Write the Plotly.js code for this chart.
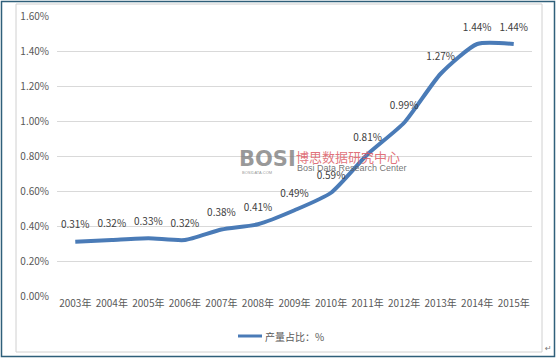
<!DOCTYPE html>
<html>
<head>
<meta charset="utf-8">
<script src="https://cdn.plot.ly/plotly-3.0.1.min.js"></script>
<style>
html,body{margin:0;padding:0;background:#fff;}
#chart{width:556px;height:358px;}
</style>
</head>
<body>
<div id="chart"></div>
<script>
const categories = ["2003年","2004年","2005年","2006年","2007年","2008年","2009年","2010年","2011年","2012年","2013年","2014年","2015年"];
const shareValues = [0.31,0.32,0.33,0.32,0.38,0.41,0.49,0.59,0.81,0.99,1.27,1.44,1.44];
const seriesName = "产量占比：%";
const yTickVals = [0,0.2,0.4,0.6,0.8,1.0,1.2,1.4,1.6];
const yTickText = ["0.00%","0.20%","0.40%","0.60%","0.80%","1.00%","1.20%","1.40%","1.60%"];

const W = 556, H = 358;
const L = 57, R = 532, T = 16, B = 296;
const px = x => (x - L) / (R - L);
const py = y => (B - y) / (B - T);

const lineColor = "#4a7bb7";
const font = "'Noto Sans CJK SC', 'Liberation Sans', sans-serif";

const trace = {
  x: categories,
  y: shareValues,
  type: "scatter",
  mode: "lines+markers+text",
  name: seriesName,
  line: {color: lineColor, width: 4, shape: "spline", smoothing: 0.6},
  marker: {size: 16, color: "rgba(0,0,0,0)", line: {width: 0}},
  text: shareValues.map(v => v.toFixed(2) + "%"),
  textposition: "top center",
  textfont: {family: font, size: 10, color: "#404040"},
  cliponaxis: false,
  hoverinfo: "none",
  showlegend: false
};

const layout = {
  width: W, height: H,
  margin: {l: L, r: W - R, t: T, b: H - B, pad: 0},
  paper_bgcolor: "#ffffff",
  plot_bgcolor: "#ffffff",
  font: {family: font, size: 10, color: "#595959"},
  xaxis: {
    type: "category",
    range: [-0.5, categories.length - 0.5],
    showgrid: false,
    showline: false,
    zeroline: false,
    ticks: "",
    tickfont: {family: font, size: 10, color: "#595959"},
    fixedrange: true
  },
  yaxis: {
    range: [0, 1.6],
    tickvals: yTickVals,
    ticktext: yTickText,
    showgrid: true,
    gridcolor: "#d9d9d9",
    gridwidth: 1,
    zeroline: false,
    showline: false,
    ticks: "",
    ticklabelstandoff: 7,
    tickfont: {family: font, size: 10, color: "#595959"},
    fixedrange: true
  },
  shapes: [
    {type: "rect", xref: "paper", yref: "paper", x0: px(1.5), x1: px(554.5), y0: py(1.5), y1: py(356.5),
     line: {color: "#2f5f7a", width: 1.5}, fillcolor: "rgba(0,0,0,0)", layer: "below"},
    {type: "rect", xref: "paper", yref: "paper", x0: px(16), x1: px(542), y0: py(4), y1: py(352),
     line: {color: "#d0d0d0", width: 1}, fillcolor: "rgba(0,0,0,0)", layer: "below"},
    {type: "line", xref: "paper", yref: "paper", x0: px(238), x1: px(262), y0: py(336), y1: py(336),
     line: {color: lineColor, width: 3}}
  ],
  annotations: [
    {xref: "paper", yref: "paper", x: px(263), y: py(336), xanchor: "left", yanchor: "middle",
     text: seriesName, showarrow: false, font: {family: font, size: 10, color: "#595959"}},
    {xref: "paper", yref: "paper", x: px(237), y: py(159), xanchor: "left", yanchor: "middle",
     text: "<b>BOSI</b>", showarrow: false, font: {family: "'DejaVu Sans', sans-serif", size: 21, color: "rgba(120,120,120,0.75)"}},
    {xref: "paper", yref: "paper", x: px(240), y: py(172.5), xanchor: "left", yanchor: "middle",
     text: "BOSIDATA.COM", showarrow: false, font: {family: "'Liberation Sans', sans-serif", size: 4, color: "rgba(120,120,120,0.8)"}},
    {xref: "paper", yref: "paper", x: px(294), y: py(156), xanchor: "left", yanchor: "middle",
     text: "博思数据研究中心", showarrow: false, font: {family: "'Noto Sans CJK SC', sans-serif", size: 13, color: "rgba(220,90,100,0.85)"}},
    {xref: "paper", yref: "paper", x: px(295), y: py(168), xanchor: "left", yanchor: "middle",
     text: "Bosi Data Research Center", showarrow: false, font: {family: "'Liberation Sans', sans-serif", size: 9, color: "rgba(90,90,90,0.85)"}},
    {xref: "paper", yref: "paper", x: px(548), y: py(348), xanchor: "center", yanchor: "middle",
     text: "↵", showarrow: false, font: {family: "'DejaVu Sans', sans-serif", size: 8, color: "#777"}}
  ]
};

Plotly.newPlot("chart", [trace], layout, {staticPlot: true, displayModeBar: false});
</script>
</body>
</html>
